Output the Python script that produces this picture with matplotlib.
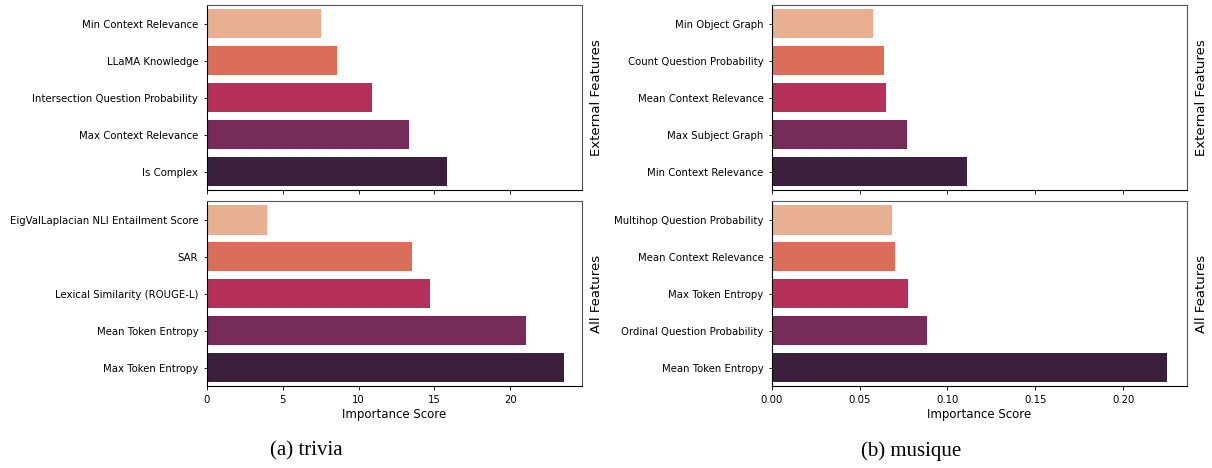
import matplotlib
matplotlib.use("Agg")
import matplotlib.pyplot as plt
import seaborn as sns

# --- Feature importances, trivia ---
trivia_ext_names = ["Min Context Relevance", "LLaMA Knowledge",
                    "Intersection Question Probability", "Max Context Relevance",
                    "Is Complex"]
trivia_ext_vals = [7.51, 8.56, 10.87, 13.33, 15.83]

trivia_all_names = ["EigValLaplacian NLI Entailment Score", "SAR",
                    "Lexical Similarity (ROUGE-L)", "Mean Token Entropy",
                    "Max Token Entropy"]
trivia_all_vals = [3.95, 13.5, 14.71, 21.03, 23.54]

# --- Feature importances, musique ---
musique_ext_names = ["Min Object Graph", "Count Question Probability",
                     "Mean Context Relevance", "Max Subject Graph",
                     "Min Context Relevance"]
musique_ext_vals = [0.0574, 0.0639, 0.0648, 0.0770, 0.1111]

musique_all_names = ["Multihop Question Probability", "Mean Context Relevance",
                     "Max Token Entropy", "Ordinal Question Probability",
                     "Mean Token Entropy"]
musique_all_vals = [0.0684, 0.0701, 0.0775, 0.0883, 0.2248]

TICK_FS = 7.3
LABEL_FS = 8.5
SIDE_FS = 9.5

palette = sns.color_palette("rocket_r", 5)

fig = plt.figure(figsize=(12.12, 4.68), dpi=100)

# Achsenpositionen [links, unten, breite, hoehe] in Figurenkoordinaten
left_x, left_w = 0.1705, 0.3097
right_x, right_w = 0.6367, 0.3424
top_y, bot_y, h = 0.594, 0.175, 0.395

panels = [
    (left_x, left_w, 0.2525, trivia_ext_names, trivia_ext_vals,
     trivia_all_names, trivia_all_vals, "(a) trivia"),
    (right_x, right_w, 0.7517, musique_ext_names, musique_ext_vals,
     musique_all_names, musique_all_vals, "(b) musique"),
]


def draw_bars(ax, names, vals, side_label):
    sns.barplot(x=vals, y=names, hue=names, palette=palette, legend=False,
                ax=ax, orient="h")
    ax.set_ylabel(side_label, fontsize=SIDE_FS)
    ax.yaxis.set_label_position("right")
    ax.yaxis.labelpad = 6
    ax.tick_params(axis="y", labelsize=TICK_FS, length=2.5, width=0.6)
    ax.tick_params(axis="x", labelsize=TICK_FS, length=3, width=0.6)
    for sp in ax.spines.values():
        sp.set_linewidth(0.8)
    ax.spines["right"].set_color("#555555")
    ax.spines["top"].set_color("#555555")


for x0, w, cap_x, ext_n, ext_v, all_n, all_v, caption in panels:
    ax_top = fig.add_axes([x0, top_y, w, h])
    ax_bot = fig.add_axes([x0, bot_y, w, h], sharex=ax_top)
    draw_bars(ax_top, ext_n, ext_v, "External Features")
    draw_bars(ax_bot, all_n, all_v, "All Features")
    xmax = max(max(ext_v), max(all_v)) * 1.05
    ax_top.set_xlim(0, xmax)
    ax_top.tick_params(axis="x", labelbottom=False)
    ax_top.set_xlabel("")
    ax_bot.set_xlabel("Importance Score", fontsize=LABEL_FS, labelpad=2)
    # Unterschrift unter jedem Teilbild
    fig.text(cap_x, 0.036, caption, ha="center", va="center", fontsize=15,
             family=["Liberation Serif", "DejaVu Serif"])

fig.savefig("out.png", dpi=100)
